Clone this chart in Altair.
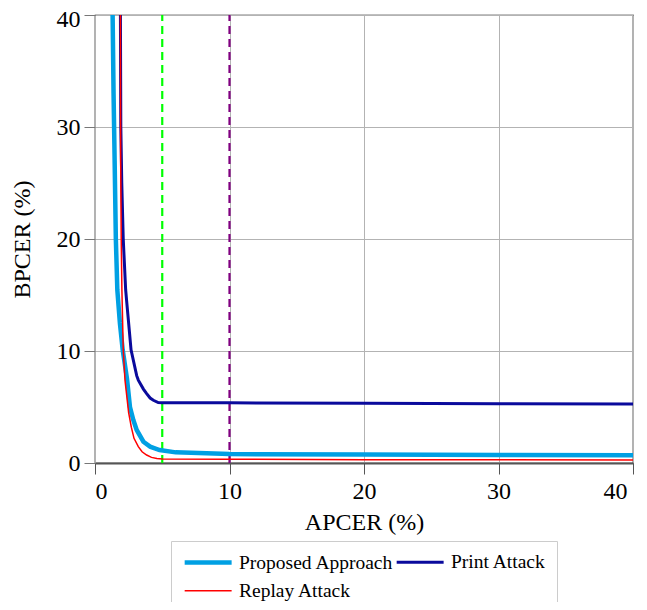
import altair as alt
import pandas as pd

# Proposed Approach
prop_x = [1.31, 1.38, 1.46, 1.55, 1.66, 1.85, 2.06, 2.38, 2.6, 2.85, 3.1, 3.6, 4.1, 4.8, 6.0, 10.0, 20.0, 30.0, 40.0]
prop_y = [40.0, 33.0, 27.0, 20.0, 15.45, 12.5, 10.1, 7.5, 5.0, 3.84, 2.95, 1.9, 1.46, 1.16, 0.95, 0.8, 0.75, 0.72, 0.7]

# Print Attack
print_x = [1.89, 1.92, 1.99, 2.1, 2.28, 2.35, 2.68, 3.1, 3.22, 3.6, 3.84, 4.1, 4.34, 4.7, 5.0, 10.0, 20.0, 30.0, 40.0]
print_y = [40.0, 30.0, 25.0, 20.0, 15.45, 14.5, 10.1, 7.8, 7.4, 6.6, 6.2, 5.8, 5.6, 5.4, 5.39, 5.37, 5.33, 5.3, 5.27]

# Replay Attack
replay_x = [1.89, 1.91, 1.95, 2.0, 2.1, 2.23, 2.5, 2.7, 2.9, 3.22, 3.5, 3.84, 4.2, 4.6, 5.0, 10.0, 20.0, 40.0]
replay_y = [40.0, 27.0, 20.0, 15.45, 10.1, 7.4, 4.5, 3.2, 2.2, 1.46, 1.0, 0.71, 0.5, 0.4, 0.36, 0.33, 0.3, 0.27]

series_names = ["Proposed Approach", "Print Attack", "Replay Attack"]
series_colors = ["#00a0e3", "#0a0a9c", "#ff0000"]
series_widths = [4.5, 1.5, 1.5]

vline_x = [5, 10]
vline_colors = ["#00ff00", "#800080"]

ticks = [0, 10, 20, 30, 40]

rows = []
for name, xs, ys in [("Proposed Approach", prop_x, prop_y),
                     ("Print Attack", print_x, print_y),
                     ("Replay Attack", replay_x, replay_y)]:
    for i, (a, b) in enumerate(zip(xs, ys)):
        rows.append({"series": name, "APCER": a, "BPCER": b, "idx": i})
df = pd.DataFrame(rows)

FONT = "Liberation Serif"

xscale = alt.Scale(domain=[0, 40], nice=False, zero=False)
yscale = alt.Scale(domain=[0, 40], nice=False, zero=False)

xaxis = alt.Axis(values=ticks, title="APCER (%)", grid=True, gridColor="#b3b3b3",
                 gridWidth=1, tickSize=11, tickColor="#555555", domainColor="#555555",
                 domainWidth=2, labelFont=FONT, labelFontSize=24, labelColor="black",
                 labelPadding=5, titleFont=FONT, titleFontSize=24, titleFontWeight="normal",
                 titleColor="black", titleY=59, titleBaseline="middle",
                 labelOffset={"condition": {"test": "datum.value == 40", "value": -6}, "value": 0})
yaxis = alt.Axis(values=ticks, title="BPCER (%)", grid=True, gridColor="#b3b3b3",
                 gridWidth=1, tickSize=11, tickColor="#777777", domain=False,
                 labelFont=FONT, labelFontSize=24, labelColor="black", labelPadding=4,
                 titleFont=FONT, titleFontSize=24, titleFontWeight="normal",
                 titleColor="black", titleX=-73, titleBaseline="middle",
                 labelOffset={"condition": {"test": "datum.value == 40", "value": 4}, "value": 0})

layers = []
for vx, vc in zip(vline_x, vline_colors):
    vdf = pd.DataFrame({"x": [vx], "y0": [0], "y1": [40]})
    layers.append(
        alt.Chart(vdf).mark_rule(strokeDash=[8, 5], strokeWidth=2.2, color=vc).encode(
            x=alt.X("x:Q", scale=xscale, axis=xaxis),
            y=alt.Y("y0:Q", scale=yscale, axis=yaxis),
            y2="y1:Q",
        )
    )

leg = dict(title=None, orient="none", legendX=76, legendY=526,
           columns=2, direction="horizontal",
           symbolType="M-1,0H5", symbolSize=245,
           labelFont=FONT, labelFontSize=19.5, labelColor="black",
           labelOffset=36, columnPadding=-5, rowPadding=8,
           padding=11, strokeColor="#cccccc", fillColor="white",
           labelLimit=300)

lines = alt.Chart(df).mark_line(clip=True).encode(
    x=alt.X("APCER:Q", scale=xscale, axis=xaxis),
    y=alt.Y("BPCER:Q", scale=yscale, axis=yaxis),
    color=alt.Color("series:N",
                    scale=alt.Scale(domain=series_names, range=series_colors),
                    legend=alt.Legend(**leg)),
    strokeWidth=alt.StrokeWidth("series:N",
                                scale=alt.Scale(domain=series_names, range=series_widths),
                                legend=alt.Legend(**leg)),
    order="idx:Q",
)
layers.append(lines)

chart = alt.layer(*layers).properties(
    width=538, height=448,
    autosize=alt.AutoSizeParams(type="none"),
    padding={"left": 87, "top": 7, "right": 6, "bottom": 139},
).configure_view(stroke="black", strokeWidth=1.2)

chart.save("out.html", embed_options={"renderer": "svg", "actions": False})
